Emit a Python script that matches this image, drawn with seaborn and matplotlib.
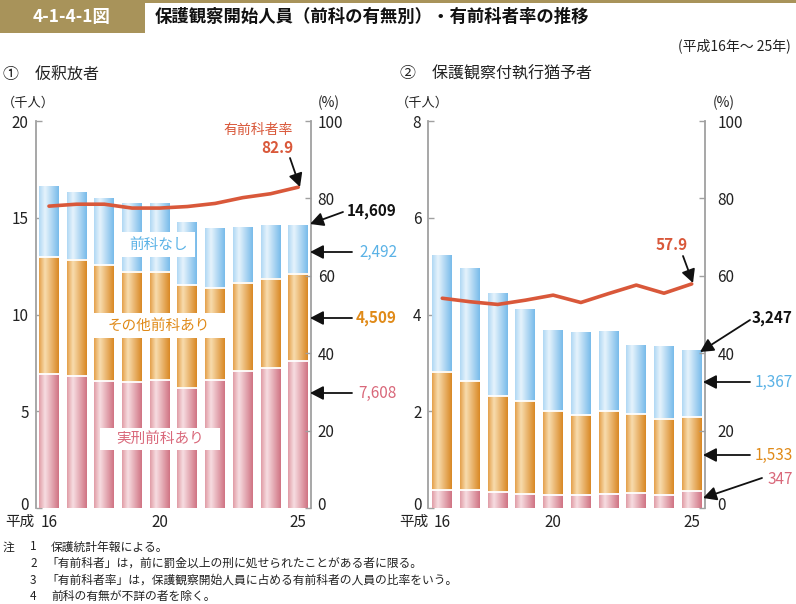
import numpy as np
import pandas as pd
import matplotlib
matplotlib.use("Agg")
import matplotlib.pyplot as plt
import seaborn as sns
from matplotlib.patches import Rectangle
from matplotlib.colors import to_rgb
from matplotlib.transforms import ScaledTranslation

# ---------------- data ----------------
years = ["16", "17", "18", "19", "20", "21", "22", "23", "24", "25"]
xtick_labels = ["16", "20", "25"]

# ① 仮釈放者 (千人)
parole_jikkei = [6.91, 6.84, 6.56, 6.50, 6.61, 6.20, 6.63, 7.08, 7.22, 7.608]
parole_sonota = [6.05, 5.99, 5.98, 5.71, 5.60, 5.32, 4.72, 4.56, 4.63, 4.509]
parole_nashi = [3.64, 3.50, 3.43, 3.54, 3.54, 3.26, 3.07, 2.88, 2.74, 2.492]
parole_rate = [78.0, 78.5, 78.5, 77.5, 77.5, 77.9, 78.7, 80.2, 81.2, 82.9]

# ② 保護観察付執行猶予者 (千人)
prob_jikkei = [0.37, 0.37, 0.33, 0.28, 0.27, 0.27, 0.29, 0.31, 0.27, 0.347]
prob_sonota = [2.45, 2.25, 1.98, 1.93, 1.73, 1.65, 1.71, 1.63, 1.57, 1.533]
prob_nashi = [2.39, 2.33, 2.13, 1.90, 1.67, 1.71, 1.65, 1.42, 1.49, 1.367]
prob_rate = [54.2, 53.3, 52.6, 53.7, 55.0, 53.1, 55.4, 57.6, 55.5, 57.9]

# ---------------- style ----------------
sns.set_theme(style="white")
plt.rcParams["font.family"] = ["Noto Sans CJK JP", "DejaVu Sans"]

W, H = 796, 604
fig = plt.figure(figsize=(W / 100, H / 100), dpi=100)

BLUE = ["#b0d8f4", "#e6f3fc", "#78bbea"]
ORANGE = ["#e4a04a", "#f8dcae", "#d98824"]
PINK = ["#e09ca6", "#f7dde1", "#d07383"]
LINE = "#d9583a"
TXT_BLUE = "#5ab2e6"
TXT_ORANGE = "#e08a18"
TXT_PINK = "#d9687a"
GOLD = "#a8935a"
SPINE = "#a0a0a0"


def grad(stops):
    c0, c1, c2 = [np.array(to_rgb(c)) for c in stops]
    t = np.linspace(0, 1, 80)
    out = []
    for v in t:
        if v < 0.3:
            f = v / 0.3
            out.append(c0 * (1 - f) + c1 * f)
        else:
            f = (v - 0.3) / 0.7
            out.append(c1 * (1 - f) + c2 * f)
    return np.array(out)[None, :, :]


def px(x, y):
    return x / W, 1 - y / H


def T(x, y, s, **kw):
    kw.setdefault("va", "center")
    kw.setdefault("ha", "left")
    kw.setdefault("color", "#222222")
    fig.text(*px(x, y), s, **kw)


def arrow(x0, y0, x1, y1):
    fig.add_artist(matplotlib.patches.FancyArrowPatch(
        px(x0, y0), px(x1, y1), transform=fig.transFigure,
        arrowstyle="-|>,head_length=5,head_width=2.6", color="#111111",
        lw=1.3, mutation_scale=1.6, shrinkA=0, shrinkB=0))


def lift_zero(axis):
    t = axis.get_major_ticks()[0]
    for lab in (t.label1, t.label2):
        lab.set_transform(lab.get_transform() + ScaledTranslation(0, 4 / 100, fig.dpi_scale_trans))


def panel(rect, xlim, red, orange, blue, rate, ymax, yticks, rpad):
    ax = fig.add_axes(rect)
    low = np.array(red)
    mid = low + np.array(orange)
    top = mid + np.array(blue)
    df = pd.DataFrame({"year": years, "top": top, "mid": mid, "low": low})
    for i, (col, cols) in enumerate([("top", BLUE), ("mid", ORANGE), ("low", PINK)]):
        n0 = len(ax.patches)
        sns.barplot(data=df, x="year", y=col, color=cols[2], width=0.72,
                    errorbar=None, linewidth=0, zorder=2 + i, ax=ax)
        img = grad(cols)
        for p in ax.patches[n0:]:
            x, y = p.get_x(), p.get_y()
            w, h = p.get_width(), p.get_height()
            ax.imshow(img, extent=[x, x + w, y, y + h], aspect="auto",
                      interpolation="bilinear", zorder=2 + i + 0.1)
            if col != "top":
                ax.plot([x, x + w], [y + h, y + h], color="white", lw=1.3,
                        zorder=2 + i + 0.2, solid_capstyle="butt")
    ax.set_xlim(*xlim)
    ax.set_ylim(0, ymax)
    ax.set_yticks(yticks)
    ax.set_yticklabels([str(v) for v in yticks])
    ax.set_xticks([0, 4, 9])
    ax.set_xticklabels(xtick_labels)
    ax.set_xlabel("")
    ax.set_ylabel("")
    for s in ["top", "right", "bottom"]:
        ax.spines[s].set_visible(False)
    ax.spines["left"].set_color(SPINE)
    ax.spines["left"].set_linewidth(1.3)
    ax.tick_params(axis="y", direction="in", length=4, width=1, color=SPINE,
                   pad=5, labelsize=11, labelcolor="#222222", left=True)
    ax.tick_params(axis="x", length=0, pad=4, labelsize=11, labelcolor="#222222")
    lift_zero(ax.yaxis)

    ax2 = ax.twinx()
    sns.lineplot(x=np.arange(len(years)), y=rate, color=LINE, lw=2.6, ax=ax2)
    ax2.set_ylim(0, 100)
    ax2.set_yticks([0, 20, 40, 60, 80, 100])
    ax2.set_yticklabels(["0", "20", "40", "60", "80", "100"])
    ax2.set_ylabel("")
    for s in ["top", "left", "bottom"]:
        ax2.spines[s].set_visible(False)
    ax2.spines["right"].set_color(SPINE)
    ax2.spines["right"].set_linewidth(1.3)
    ax2.tick_params(axis="y", direction="in", length=4, width=1, color=SPINE,
                    pad=rpad, labelsize=11, labelcolor="#222222", right=True)
    ax2.set_xlim(*xlim)
    lift_zero(ax2.yaxis)
    return ax, ax2


y_bot = 1 - 508 / H
h_ax = 387 / H
panel([35.7 / W, y_bot, 275 / W, h_ax], (-0.48, 9.45),
      parole_jikkei, parole_sonota, parole_nashi, parole_rate,
      20, [0, 5, 10, 15, 20], 5)
panel([428.3 / W, y_bot, 276.7 / W, h_ax], (-0.505, 9.48),
      prob_jikkei, prob_sonota, prob_nashi, prob_rate,
      8, [0, 2, 4, 6, 8], 9)

# ---------------- header ----------------
fig.add_artist(Rectangle(px(0, 33), 145 / W, 33 / H, transform=fig.transFigure,
                         facecolor=GOLD, edgecolor="none", zorder=1))
fig.add_artist(Rectangle(px(145, 2.5), (W - 145) / W, 2.5 / H, transform=fig.transFigure,
                         facecolor=GOLD, edgecolor="none", zorder=1))
T(72, 17, "4-1-4-1図", ha="center", color="white", fontsize=12.5, fontweight="bold")
T(155, 17, "保護観察開始人員（前科の有無別）・有前科者率の推移", fontsize=12.5,
  fontweight="bold", color="#111111")
T(791, 46, "(平成16年～ 25年)", ha="right", fontsize=10)
T(3, 74, "①　仮釈放者", fontsize=11.5)
T(400, 74, "②　保護観察付執行猶予者", fontsize=11.5)

# unit labels
T(2, 103, "（千人）", fontsize=9.5)
T(318, 103, "(%)", fontsize=10)
T(396, 103, "（千人）", fontsize=9.5)
T(713, 103, "(%)", fontsize=10)

# era labels
T(35, 522, "平成", ha="right", fontsize=10.5)
T(428, 522, "平成", ha="right", fontsize=10.5)

# in-chart category labels (left panel)
for (x0, y0, x1, y1, s, c) in [(122, 232, 195, 257, "前科なし", TXT_BLUE),
                               (93, 313, 225, 338, "その他前科あり", TXT_ORANGE),
                               (100, 428, 220, 450, "実刑前科あり", TXT_PINK)]:
    fig.add_artist(Rectangle(px(x0, y1), (x1 - x0) / W, (y1 - y0) / H,
                             transform=fig.transFigure, facecolor="white",
                             edgecolor="none", zorder=5))
    T((x0 + x1) / 2, (y0 + y1) / 2, s, ha="center", color=c, fontsize=10.5, zorder=6)

# annotations left panel
T(258, 130, "有前科者率", ha="center", color=LINE, fontsize=10)
T(293, 148, "82.9", ha="right", color=LINE, fontsize=11, fontweight="bold")
arrow(290, 158, 300, 187)
T(397, 211, "14,609", ha="right", fontsize=11, fontweight="bold", color="#111111")
arrow(343, 212, 310, 224)
T(397, 252, "2,492", ha="right", fontsize=11, color=TXT_BLUE)
arrow(352, 252, 310, 252)
T(397, 318, "4,509", ha="right", fontsize=11, color=TXT_ORANGE, fontweight="bold")
arrow(352, 318, 310, 318)
T(397, 393, "7,608", ha="right", fontsize=11, color=TXT_PINK)
arrow(352, 393, 310, 393)

# annotations right panel
T(688, 245, "57.9", ha="right", color=LINE, fontsize=11, fontweight="bold")
arrow(683, 256, 693, 283)
T(793, 318, "3,247", ha="right", fontsize=11, fontweight="bold", color="#111111")
arrow(750, 320, 700, 352)
T(793, 382, "1,367", ha="right", fontsize=11, color=TXT_BLUE)
arrow(750, 382, 703, 382)
T(793, 455, "1,533", ha="right", fontsize=11, color=TXT_ORANGE)
arrow(750, 455, 703, 455)
T(793, 479, "347", ha="right", fontsize=11, color=TXT_PINK)
arrow(762, 478, 703, 498)

# notes
notes = [("注", "1", "保護統計年報による。"),
         ("", "2", "「有前科者」は，前に罰金以上の刑に処せられたことがある者に限る。"),
         ("", "3", "「有前科者率」は，保護観察開始人員に占める有前科者の人員の比率をいう。"),
         ("", "4", "前科の有無が不詳の者を除く。")]
for i, (a, b, c) in enumerate(notes):
    y = 547 + i * 16.5
    if a:
        T(3, y, a, fontsize=8.5)
    T(30, y, b, fontsize=8.5)
    T(51 if not c.startswith("「") else 46, y, c, fontsize=8.5)

fig.savefig("out.png", dpi=100)
